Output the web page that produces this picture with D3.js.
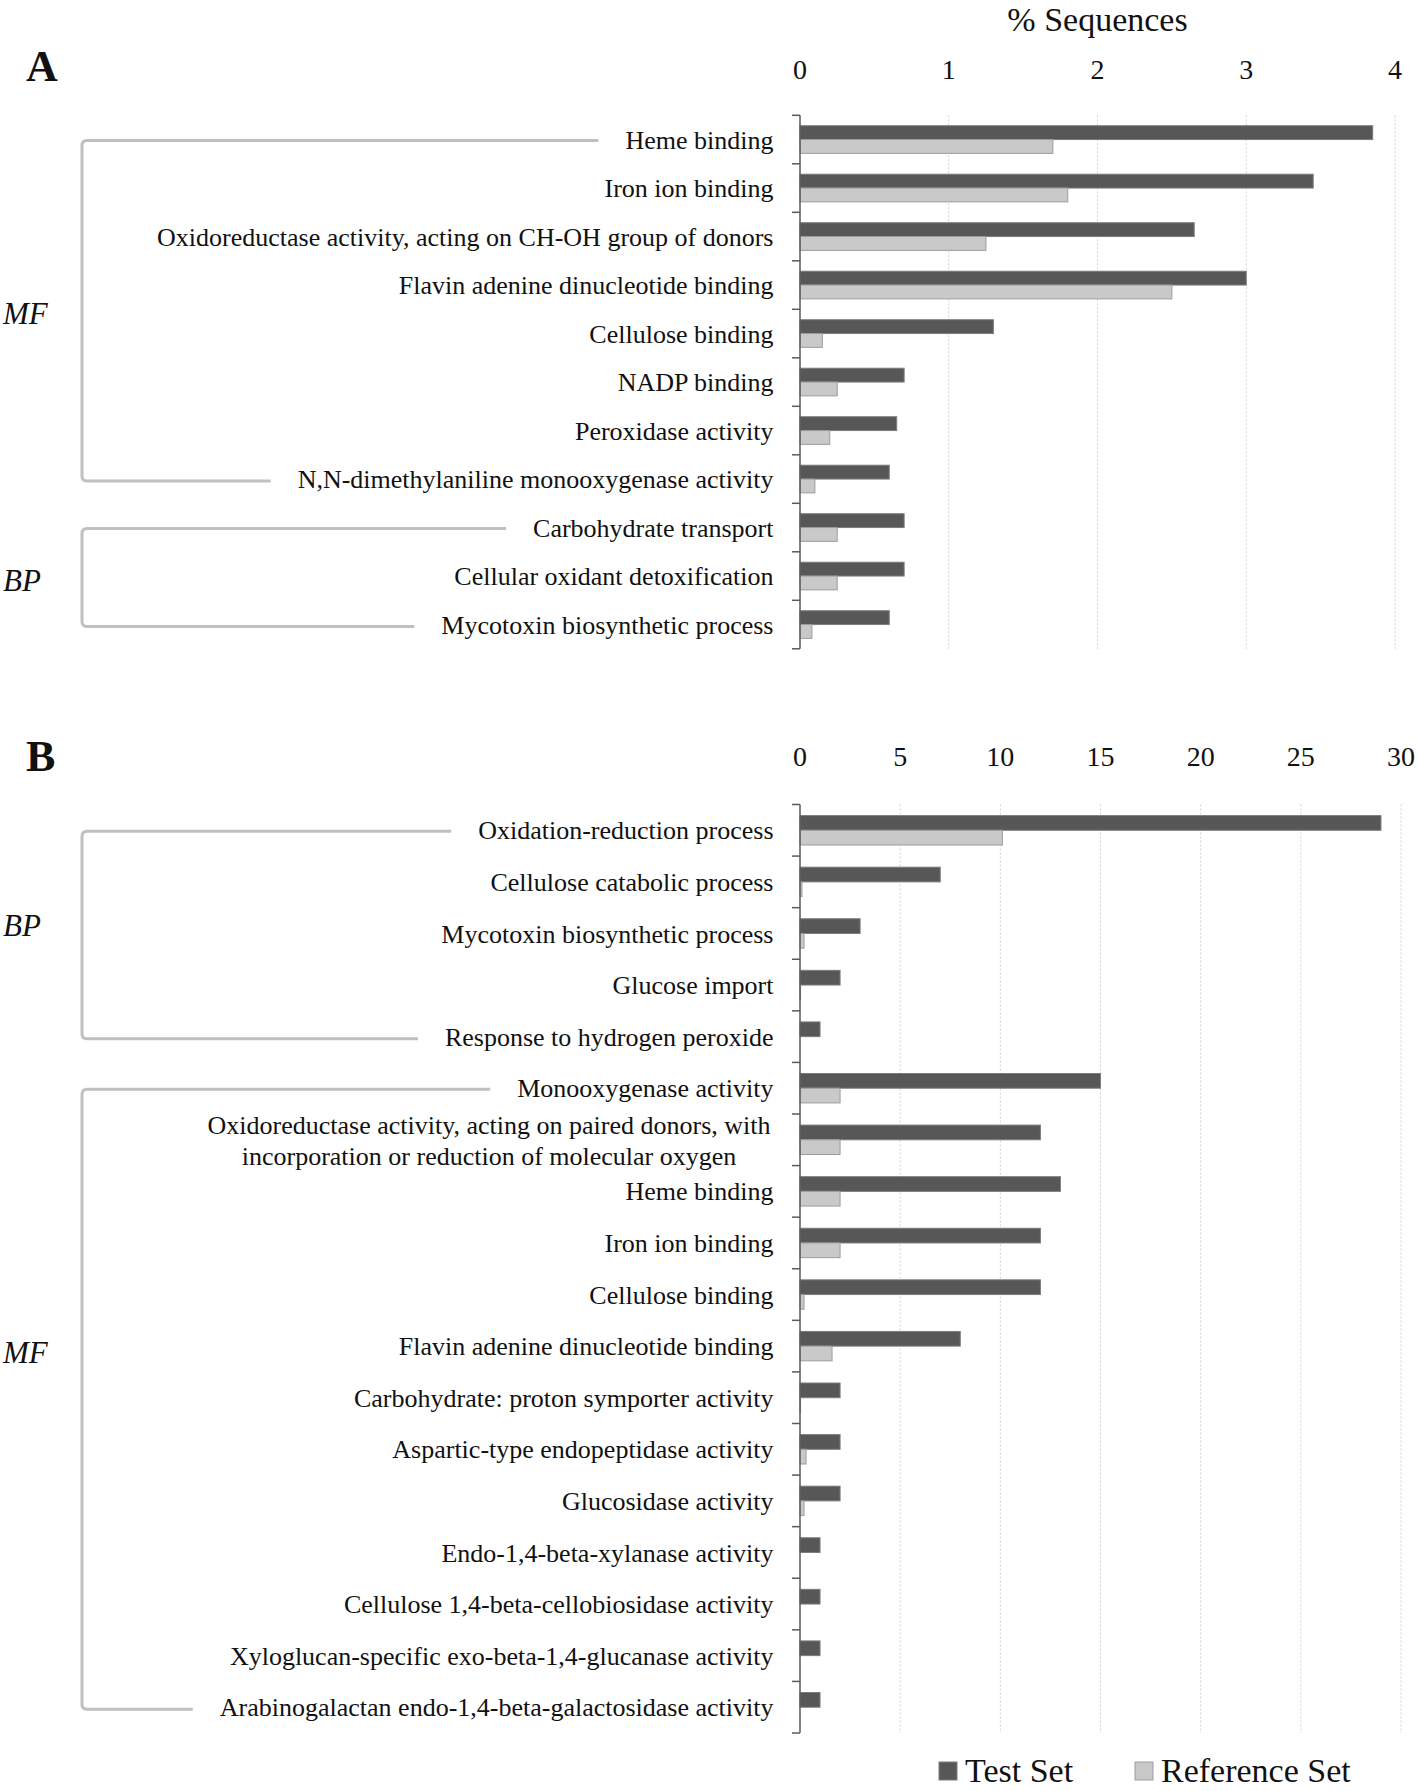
<!DOCTYPE html>
<html>
<head>
<meta charset="utf-8">
<script src="https://cdn.jsdelivr.net/npm/d3@7"></script>
<style>
  html, body { margin: 0; padding: 0; background: #fff; }
  svg { display: block; }
  text { font-family: "Liberation Serif", "Times New Roman", serif; fill: #111; }
</style>
</head>
<body>
<svg id="chart" width="1418" height="1791"></svg>
<script>
// ---------- Data ----------
const seriesNames = ["Test Set", "Reference Set"];

const categoriesA = [
  "Heme binding",
  "Iron ion binding",
  "Oxidoreductase activity, acting on CH-OH group of donors",
  "Flavin adenine dinucleotide binding",
  "Cellulose binding",
  "NADP binding",
  "Peroxidase activity",
  "N,N-dimethylaniline monooxygenase activity",
  "Carbohydrate transport",
  "Cellular oxidant detoxification",
  "Mycotoxin biosynthetic process"
];
const testA = [3.85, 3.45, 2.65, 3.0, 1.3, 0.7, 0.65, 0.6, 0.7, 0.7, 0.6];
const refA  = [1.70, 1.80, 1.25, 2.5, 0.15, 0.25, 0.2, 0.1, 0.25, 0.25, 0.08];
const ticksA = [0, 1, 2, 3, 4];
const groupsA = [
  { name: "MF", from: 0, to: 7 },
  { name: "BP", from: 8, to: 10 }
];

const categoriesB = [
  "Oxidation-reduction process",
  "Cellulose catabolic process",
  "Mycotoxin biosynthetic process",
  "Glucose import",
  "Response to hydrogen peroxide",
  "Monooxygenase activity",
  "Oxidoreductase activity, acting on paired donors, with\nincorporation or reduction of molecular oxygen",
  "Heme binding",
  "Iron ion binding",
  "Cellulose binding",
  "Flavin adenine dinucleotide binding",
  "Carbohydrate: proton symporter activity",
  "Aspartic-type endopeptidase activity",
  "Glucosidase activity",
  "Endo-1,4-beta-xylanase activity",
  "Cellulose 1,4-beta-cellobiosidase activity",
  "Xyloglucan-specific exo-beta-1,4-glucanase activity",
  "Arabinogalactan endo-1,4-beta-galactosidase activity"
];
const testB = [29.0, 7.0, 3.0, 2.0, 1.0, 15.0, 12.0, 13.0, 12.0, 12.0, 8.0, 2.0, 2.0, 2.0, 1.0, 1.0, 1.0, 1.0];
const refB  = [10.1, 0.1, 0.2, 0.03, 0, 2.0, 2.0, 2.0, 2.0, 0.2, 1.6, 0.03, 0.3, 0.2, 0, 0, 0, 0];
const ticksB = [0, 5, 10, 15, 20, 25, 30];
const groupsB = [
  { name: "BP", from: 0, to: 4 },
  { name: "MF", from: 5, to: 17 }
];

// ---------- Styles ----------
const DARK = "#575757", DARK_STROKE = "#7c7c7c";
const LIGHT = "#c9c9c9", LIGHT_STROKE = "#9c9c9c";
const BRACKET = "#c0c0c0";

const svg = d3.select("#chart");

function drawPanel(cfg) {
  const g = svg.append("g");
  const x = d3.scaleLinear().domain([0, cfg.max]).range([800, cfg.xEnd]);
  const y = d3.scaleBand().domain(cfg.cats).range([cfg.yTop, cfg.yBot])
    .paddingInner(0.43).paddingOuter(0.215);
  const sub = d3.scaleBand().domain(["test", "ref"]).range([0, y.bandwidth()]);
  const step = y.step();
  const center = c => y(c) + y.bandwidth() / 2;

  // gridlines
  g.selectAll("line.grid").data(cfg.ticks.filter(t => t > 0)).join("line")
    .attr("x1", d => x(d)).attr("x2", d => x(d))
    .attr("y1", cfg.yTop).attr("y2", cfg.yBot)
    .attr("stroke", "#d2d2d2").attr("stroke-width", 1)
    .attr("stroke-dasharray", "2,2");

  // tick labels on top
  g.selectAll("text.tick").data(cfg.ticks).join("text")
    .attr("x", d => x(d)).attr("y", cfg.tickBaseline)
    .attr("text-anchor", "middle").attr("font-size", 28)
    .text(d => d);

  // bars
  const rows = cfg.cats.map((c, i) => ({ c, test: cfg.test[i], ref: cfg.ref[i] }));
  const rg = g.selectAll("g.row").data(rows).join("g")
    .attr("transform", d => `translate(0,${y(d.c)})`);
  rg.append("rect")
    .attr("x", x(0)).attr("y", sub("test"))
    .attr("width", d => Math.max(0, x(d.test) - x(0)))
    .attr("height", sub.bandwidth())
    .attr("fill", DARK).attr("stroke", DARK_STROKE).attr("stroke-width", 1);
  rg.filter(d => d.ref > 0).append("rect")
    .attr("x", x(0)).attr("y", sub("ref"))
    .attr("width", d => Math.max(0, x(d.ref) - x(0)))
    .attr("height", sub.bandwidth())
    .attr("fill", LIGHT).attr("stroke", LIGHT_STROKE).attr("stroke-width", 1);

  // axis line + boundary ticks
  g.append("line")
    .attr("x1", x(0)).attr("x2", x(0))
    .attr("y1", cfg.yTop).attr("y2", cfg.yBot)
    .attr("stroke", "#5a5a5a").attr("stroke-width", 1.5);
  const bounds = d3.range(cfg.cats.length + 1).map(i => cfg.yTop + i * step);
  g.selectAll("line.btick").data(bounds).join("line")
    .attr("x1", x(0) - 8).attr("x2", x(0))
    .attr("y1", d => d).attr("y2", d => d)
    .attr("stroke", "#5a5a5a").attr("stroke-width", 1.5);

  // category labels
  const labelX = 773.5;
  const labelStart = {};
  cfg.cats.forEach(c => {
    const lines = c.split("\n");
    if (lines.length === 1) {
      const t = g.append("text")
        .attr("x", labelX).attr("y", center(c)).attr("dy", "0.35em")
        .attr("text-anchor", "end").attr("font-size", 26).text(c);
      labelStart[c] = labelX - t.node().getComputedTextLength();
    } else {
      const tmp = lines.map(l => g.append("text").attr("font-size", 26).text(l));
      const widths = tmp.map(t => t.node().getComputedTextLength());
      tmp.forEach(t => t.remove());
      const maxW = d3.max(widths);
      const cx = labelX - 3 - maxW / 2;
      const offs = [-15, 16];
      lines.forEach((l, k) => {
        g.append("text").attr("x", cx).attr("y", center(c) + offs[k]).attr("dy", "0.35em")
          .attr("text-anchor", "middle").attr("font-size", 26).text(l);
      });
      labelStart[c] = cx - maxW / 2;
    }
  });

  // brackets
  const bx = 82, r = 5;
  cfg.groups.forEach(gr => {
    const c0 = cfg.cats[gr.from], c1 = cfg.cats[gr.to];
    const y0 = center(c0) + 1, y1 = center(c1) + 2;
    const xe0 = labelStart[c0] - 27, xe1 = labelStart[c1] - 27;
    const p = d3.path();
    p.moveTo(xe0, y0);
    p.lineTo(bx + r, y0);
    p.quadraticCurveTo(bx, y0, bx, y0 + r);
    p.lineTo(bx, y1 - r);
    p.quadraticCurveTo(bx, y1, bx + r, y1);
    p.lineTo(xe1, y1);
    g.append("path").attr("d", p.toString())
      .attr("fill", "none").attr("stroke", BRACKET).attr("stroke-width", 3);
    g.append("text").attr("x", 3).attr("y", cfg.groupLabelY[gr.name]).attr("dy", "0.35em")
      .attr("font-size", 31).attr("font-style", "italic").text(gr.name);
  });

  // panel letter
  g.append("text").attr("x", 26).attr("y", cfg.letterBaseline)
    .attr("font-size", 44).attr("font-weight", "bold").text(cfg.letter);

  return x;
}

const xA = drawPanel({
  cats: categoriesA, test: testA, ref: refA, ticks: ticksA, max: 4, xEnd: 1395,
  yTop: 115.3, yBot: 648.8, tickBaseline: 78.5, letter: "A", letterBaseline: 81,
  groups: groupsA, groupLabelY: { MF: 313, BP: 580 }
});

svg.append("text").attr("x", xA(2)).attr("y", 31).attr("text-anchor", "middle")
  .attr("font-size", 34).text("% Sequences");

drawPanel({
  cats: categoriesB, test: testB, ref: refB, ticks: ticksB, max: 30, xEnd: 1401,
  yTop: 804.5, yBot: 1733, tickBaseline: 766, letter: "B", letterBaseline: 771,
  groups: groupsB, groupLabelY: { BP: 925, MF: 1352 }
});

// legend
const legend = svg.append("g");
const legendItems = [
  { name: seriesNames[0], fill: DARK, stroke: DARK_STROKE, x: 939 },
  { name: seriesNames[1], fill: LIGHT, stroke: LIGHT_STROKE, x: 1135 }
];
legendItems.forEach(it => {
  legend.append("rect").attr("x", it.x).attr("y", 1762).attr("width", 18).attr("height", 18)
    .attr("fill", it.fill).attr("stroke", it.stroke).attr("stroke-width", 1);
  legend.append("text").attr("x", it.x + 26).attr("y", 1782).attr("font-size", 34).text(it.name);
});
</script>
</body>
</html>
